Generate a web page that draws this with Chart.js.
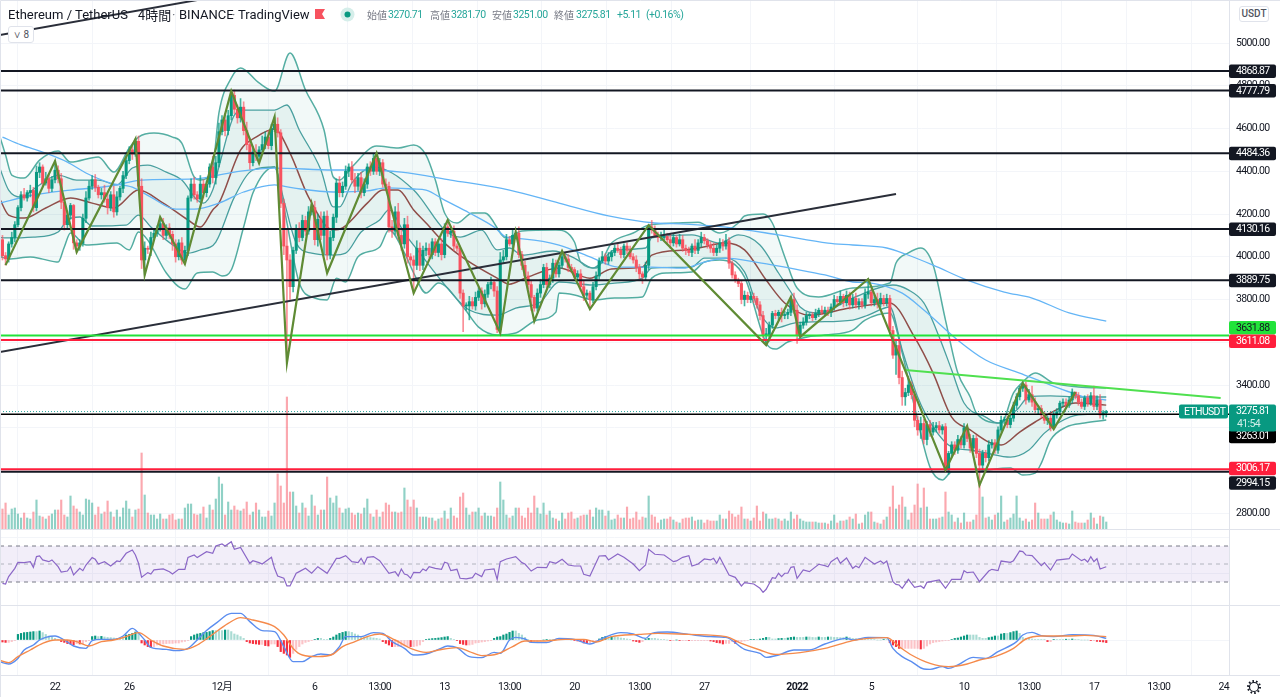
<!DOCTYPE html>
<html lang="ja">
<head>
<meta charset="UTF-8">
<title>Ethereum / TetherUS</title>
<script src="https://cdn.jsdelivr.net/npm/chart.js@4.4.1/dist/chart.umd.min.js"></script>
<style>
    html, body { margin: 0; padding: 0; background: #fff; overflow: hidden; }
    #wrap { position: relative; width: 1280px; height: 697px; font-family: Roboto, sans-serif; color: #131722; }
    canvas { position: absolute; left: 0; top: 0; filter: blur(0.3px); }
    .t { position: absolute; white-space: nowrap; }
    .head { top: 7px; font-size: 13px; line-height: 15px; }
    .lab { top: 8px; font-size: 10px; line-height: 14px; color: #787b86; font-family: "Noto Sans CJK JP", Roboto, sans-serif; }
    .val { top: 8px; font-size: 10.5px; line-height: 14px; color: #26a69a; letter-spacing: -0.5px; }
    .box { position: absolute; border: 1px solid #e0e3eb; border-radius: 3px; background: #fff; font-size: 10px; color: #50535e; text-align: center; }
</style>
</head>
<body>
<div id="wrap">
    <canvas id="mychart" width="1280" height="697"></canvas>
    <span class="t head" style="left:8px">Ethereum / TetherUS</span>
    <span class="t head" style="left:138px;font-family:'Noto Sans CJK JP',sans-serif">4時間</span>
    <span class="t head" style="left:172px;color:#787b86">·</span>
    <span class="t head" style="left:179px">BINANCE</span>
    <span class="t head" style="left:232px;color:#787b86">·</span>
    <span class="t head" style="left:238px">TradingView</span>
    <svg class="t" style="left:315px;top:9px" width="10" height="10"><path d="M0 0H10L7 5L10 10H0Z" fill="#f7525f"/></svg>
    <svg class="t" style="left:340px;top:7px" width="15" height="15"><circle cx="7.5" cy="7.5" r="7" fill="#d5eeea"/><circle cx="7.5" cy="7.5" r="3" fill="#089981"/></svg>
    <span class="t lab" style="left:367px">始値</span><span class="t val" style="left:388px">3270.71</span>
    <span class="t lab" style="left:430px">高値</span><span class="t val" style="left:451px">3281.70</span>
    <span class="t lab" style="left:492px">安値</span><span class="t val" style="left:513px">3251.00</span>
    <span class="t lab" style="left:554px">終値</span><span class="t val" style="left:576px">3275.81</span>
    <span class="t val" style="left:617px">+5.11</span><span class="t val" style="left:646px">(+0.16%)</span>
    <div class="box" style="left:8px;top:26px;width:24px;height:15px;line-height:15px">&#8744; 8</div>
    <div class="box" style="left:1239px;top:6px;width:28px;height:14px;line-height:14px;font-weight:500">USDT</div>
    <svg class="t" style="left:1246px;top:679px" width="16" height="16" fill="none" stroke="#131722">
        <circle cx="8" cy="8" r="4.5" stroke-width="1.2"/>
        <circle cx="8" cy="8" r="6" stroke-width="2" stroke-dasharray="1.6 2.1"/>
    </svg>
</div>
<script>
    // time axis: bar number, 0 = 22 Nov 00:00, 6 bars a day
    const tickBars = [0, 24, 54, 84, 105, 126, 147, 168, 189, 210, 240, 264, 294, 315, 336, 357, 378];
    const tickLabels = ['22', '26', '12月', '6', '13:00', '13', '13:00', '20', '13:00', '27', '2022', '5', '10', '13:00', '17', '13:00', '24'];
    const priceTicks = [2800, 3000, 3200, 3400, 3600, 3800, 4000, 4200, 4400, 4600, 4800, 5000];
    const rsiTicks = [40, 80];
    const macdTicks = [0];

    const firstBar = -17;
    const firstOpen = 4080;

    const closes = [
        4005,3990,4060,4090,4150,4230,4290,4275,4300,4310,
        4230,4395,4420,4345,4365,4320,4360,4405,4365,4255,
        4150,4195,4240,4065,4050,4065,4180,4275,4330,4360,
        4325,4290,4300,4270,4230,4290,4210,4280,4320,4380,
        4450,4500,4480,4540,4330,3985,4040,4035,4090,4110,
        4130,4155,4100,4135,4105,4060,4000,4065,3985,4030,
        4275,4340,4290,4270,4340,4300,4340,4420,4370,4440,
        4585,4640,4590,4660,4755,4690,4650,4700,4590,4525,
        4440,4490,4470,4500,4525,4560,4520,4600,4620,4580,
        4250,4050,3985,3860,4030,4130,4090,4170,4120,4210,
        4230,4080,4175,4100,4190,4010,4090,4185,4345,4300,
        4330,4400,4420,4360,4330,4370,4300,4340,4420,4400,
        4460,4400,4440,4340,4330,4140,4120,4210,4100,4060,
        4150,4000,3985,3960,4040,3960,4030,4040,4010,4070,
        4020,4060,4010,4140,4110,4120,4050,4040,3830,3770,
        3770,3790,3770,3810,3840,3780,3825,3870,3880,3840,
        3660,3985,4000,4080,4060,4100,4110,4010,3960,3910,
        3870,3810,3760,3830,3870,3950,3870,3900,3970,3920,
        3960,4000,3990,3950,3940,3905,3920,3860,3820,3830,
        3800,3860,3910,3980,4000,3980,4000,4020,4040,4030,
        4010,4050,4030,4000,3985,3950,3920,3905,3960,4140,
        4125,4100,4090,4090,4095,4080,4065,4090,4060,4080,
        4040,4030,4020,4050,4030,4065,4090,4075,4055,4040,
        4020,4040,4065,4050,4075,3970,3915,3890,3875,3800,
        3820,3800,3815,3805,3775,3725,3635,3635,3680,3735,
        3725,3740,3725,3730,3740,3800,3750,3635,3680,3695,
        3725,3725,3715,3735,3750,3740,3750,3740,3765,3800,
        3790,3815,3785,3820,3775,3805,3775,3790,3775,3825,
        3835,3785,3800,3780,3805,3785,3805,3655,3540,3585,
        3435,3345,3365,3400,3355,3235,3190,3220,3145,3215,
        3180,3200,3210,3190,3205,3002,3080,3120,3095,3145,
        3120,3200,3150,3105,3150,3080,3025,3080,3060,3120,
        3130,3095,3190,3235,3235,3215,3245,3305,3345,3385,
        3400,3330,3355,3320,3285,3290,3260,3235,3245,3200,
        3260,3275,3315,3320,3305,3330,3367,3350,3320,3300,
        3340,3315,3350,3300,3330,3260,3270.71,3275.81
    ];
    // wick length above / below the candle body
    const wickUp = [
        20,15,10,25,15,10,15,30,10,25,
        15,30,20,10,30,25,15,43,20,25,
        15,20,10,5,15,15,20,30,25,20,
        25,10,20,35,25,15,40,25,10,20,
        20,15,15,11,25,35,30,10,25,15,
        15,31,25,15,20,15,20,15,25,20,
        10,25,30,15,40,20,15,15,50,30,
        40,20,30,25,20,25,20,40,25,40,
        30,25,35,15,40,25,30,20,34,30,
        15,20,75,25,15,20,30,25,20,25,
        17,30,25,35,20,25,30,15,20,30,
        20,25,15,25,30,20,25,25,15,25,
        20,25,20,15,25,20,30,25,40,30,
        30,40,15,20,35,25,20,25,20,15,
        15,20,25,15,32,20,25,10,10,15,
        15,25,20,25,15,15,20,10,25,10,
        20,35,30,25,15,30,6,30,15,20,
        20,15,10,20,25,15,20,15,20,15,
        15,27,15,20,15,10,15,20,25,15,
        10,20,20,15,25,15,20,10,15,20,
        15,10,15,20,15,20,15,10,15,8,
        30,20,15,25,30,15,30,15,10,25,
        20,15,15,10,30,15,25,15,10,15,
        25,15,20,15,30,15,10,15,10,15,
        20,15,20,15,10,15,20,30,15,10,
        15,10,20,15,15,14,30,25,15,20,
        15,10,15,20,10,20,15,15,15,20,
        15,25,10,20,15,20,25,15,15,25,
        61,15,20,30,25,15,20,15,20,30,
        25,30,20,40,15,15,20,30,20,15,
        20,25,15,20,10,15,10,15,15,20,
        15,20,9,20,15,15,20,15,15,20,
        15,15,15,20,15,20,15,15,15,10,
        9,15,25,40,20,15,15,15,10,15,
        15,15,10,15,15,15,15,0,15,15,
        10,15,15,45,20,25,10,6
    ];
    const wickDown = [
        20,29,15,15,20,10,15,10,15,20,
        20,15,25,15,10,20,15,15,20,30,
        25,20,20,30,28,20,15,20,10,15,
        20,15,20,15,30,15,25,15,15,20,
        15,15,25,10,15,40,70,20,30,15,
        15,10,20,15,20,30,25,15,20,19,
        25,15,20,15,15,25,20,15,25,30,
        20,15,25,20,20,20,25,20,20,25,
        30,15,20,32,15,20,15,20,15,20,
        20,40,482,60,25,15,20,15,20,15,
        15,25,30,20,86,25,20,15,25,20,
        20,15,25,15,30,20,25,15,20,20,
        15,15,20,15,20,25,30,15,20,30,
        20,30,25,130,20,25,20,25,15,20,
        15,20,25,15,15,20,20,15,25,120,
        20,65,15,20,15,25,15,15,20,25,
        15,17,15,15,10,20,15,15,20,15,
        20,61,15,15,20,15,15,15,20,15,
        15,15,15,20,15,15,20,20,25,15,
        45,15,15,15,10,15,15,20,15,10,
        15,15,15,10,15,20,25,30,15,20,
        15,10,20,15,15,20,25,15,15,10,
        15,20,15,20,15,15,20,15,15,20,
        15,15,20,20,15,25,15,10,15,20,
        30,15,15,20,15,20,15,47,30,15,
        15,20,30,15,20,15,15,40,9,15,
        15,15,15,10,15,10,15,15,20,15,
        15,15,20,15,20,15,15,20,15,15,
        20,15,15,20,15,15,15,20,15,90,
        30,40,40,15,20,30,25,40,20,25,
        20,15,20,15,20,0,20,15,20,15,
        15,15,15,20,15,20,94,25,20,15,
        15,15,15,10,15,15,15,15,15,15,
        15,20,10,20,15,20,15,15,20,15,
        5,15,10,15,15,10,15,15,15,10,
        15,15,10,15,15,15,20,20
    ];
    const volumes = [
        20,26,14,20,21,15,11,16,11,10,17,29,13,12,10,13,15,19,19,29,
        14,12,33,23,20,17,14,30,29,26,14,22,15,17,28,17,12,19,12,21,
        28,20,12,19,20,76,34,16,14,14,10,15,10,10,14,15,9,10,10,21,
        25,25,15,14,15,22,11,24,19,30,52,45,14,27,19,23,19,18,20,27,
        14,17,26,19,12,12,18,13,26,55,43,26,132,37,37,23,16,26,21,13,
        34,23,14,19,19,52,31,26,33,21,16,20,21,16,14,16,15,21,30,15,
        12,19,12,17,26,24,17,17,16,17,41,29,22,29,21,12,12,
        12,11,11,8,10,11,18,10,21,13,11,32,36,21,14,17,17,21,13,16,
        13,13,12,21,47,29,14,11,13,21,21,13,11,21,16,33,21,15,26,14,
        18,11,10,8,16,10,16,17,10,11,13,14,14,19,12,21,19,19,13,18,
        9,10,14,11,11,22,10,11,17,9,12,11,33,14,12,6,9,10,10,12,
        9,7,6,10,11,11,12,8,9,9,6,9,8,8,8,14,10,10,18,15,
        12,14,22,10,10,8,11,23,8,17,15,10,10,11,10,8,10,8,17,10,
        14,10,8,7,7,7,7,6,6,6,5,8,14,6,8,8,9,12,
        10,15,5,6,14,17,17,7,6,5,9,12,22,43,20,24,32,22,9,16,
        24,45,21,41,22,10,10,10,11,12,37,17,14,7,11,6,16,7,7,9,
        14,44,32,11,12,9,14,16,33,7,9,11,15,33,11,8,10,7,9,26,
        16,10,10,10,14,17,9,7,6,6,5,18,7,6,6,6,9,16,11,5,
        13,12,7
    ];
    const macdHist = [
        -10,-12,-12,-8,-3,28,33,37,38,40,42,42,45,37,28,20,15,
        8,3,-8,-12,-18,-20,-25,-18,-20,-18,-8,-3,17,20,17,18,15,13,12,10,8,8,8,25,28,33,40,33,
        -15,-25,-33,-38,-33,-25,-22,-20,-18,-17,-17,-15,-15,-10,-7,-3,17,25,30,33,37,38,42,47,47,47,47,50,50,42,30,25,17,8,
        -8,-15,-18,-20,-22,-22,-28,-30,-20,-20,-33,-58,-67,-75,-87,-67,-47,-33,-20,-12,-8,-3,3,8,8,3,3,8,15,25,33,38,42,42,38,30,25,17,15,15,12,10,8,5,
        -8,-17,-25,-33,-33,-33,-33,-30,-28,-33,-33,-30,-25,-8,
        3,5,7,8,10,12,15,17,8,3,-3,-18,-22,-25,-25,-22,-15,-13,-10,-8,-5,-3,8,15,17,25,30,38,45,45,33,25,13,3,-8,-8,-8,-5,0,3,3,3,3,3,5,5,3,0,-3,-5,-8,-15,-17,-15,-8,-3,5,13,17,15,17,15,13,10,8,5,3,-5,-8,-12,-8,3,8,8,8,5,3,3,0,-3,-3,0,-2,-2,-2,-3,-3,-3,-3,-3,-3,-3,-5,-8,-13,-15,-20,-17,-17,-8,-17,-8,-8,-5,-3,2,3,3,5,8,13,13,5,5,7,8,8,10,13,15,13,13,13,15,15,13,12,15,13,13,15,15,13,13,12,12,15,12,
        8,7,5,5,3,3,2,2,0,0,2,2,-13,-25,-33,-42,-42,-42,-42,-42,-42,-42,-45,-42,-30,-20,-13,-10,-8,-5,-3,-3,3,8,10,15,20,25,25,25,25,13,8,8,12,15,20,20,30,33,33,37,42,45,33,13,8,8,5,3,3,3,3,-8,-8,3,3,3,3,4,4,5,3,3,0,0,0,-3,-3,-7,-8,-10,-13
    ];

    // sampled lines: [bar, value]
    const ma200 = [[-18,4251],[-7,4289],[5,4312],[18,4331],[28,4359],[45,4364],[58,4396],[71,4415],[90,4406],[101,4406],[112,4396],[128,4359],[147,4312],[163,4251],[179,4191],[194,4158],[204,4153],[217,4139],[234,4102],[250,4064],[258,4055],[269,4041],[275,4013],[284,3961],[295,3891],[307,3835],[316,3807],[328,3737],[340,3699]];
    const ma100 = [[-17,4560],[-11,4523],[-4,4490],[4,4443],[10,4392],[18,4345],[25,4326],[31,4279],[39,4223],[45,4223],[53,4251],[61,4303],[71,4336],[77,4322],[90,4303],[101,4308],[107,4322],[116,4317],[120,4312],[126,4265],[134,4205],[142,4139],[146,4092],[152,4083],[163,4055],[174,3994],[182,3952],[193,3952],[203,3947],[210,3975],[217,3994],[228,3971],[239,3943],[249,3915],[258,3882],[264,3877],[274,3830],[281,3751],[292,3610],[301,3517],[312,3456],[322,3400],[329,3363],[333,3344],[340,3330]];
    const bbUpper = [[-18,4569],[-16,4476],[-14,4382],[-10,4368],[-5,4452],[1,4495],[5,4443],[14,4467],[19,4396],[24,4509],[27,4560],[32,4579],[38,4560],[41,4532],[45,4373],[47,4359],[51,4420],[53,4672],[57,4836],[60,4883],[66,4813],[71,4775],[76,4953],[81,4780],[87,4593],[90,4373],[92,4359],[96,4420],[104,4518],[111,4509],[116,4523],[120,4476],[123,4359],[126,4205],[130,4158],[135,4205],[139,4205],[146,4088],[151,4120],[162,4125],[168,4069],[170,3975],[175,3947],[180,4064],[187,4111],[192,4148],[201,4158],[208,4162],[215,4111],[221,4158],[223,4191],[229,4200],[232,4158],[236,4000],[240,3854],[247,3812],[258,3854],[270,3877],[272,3971],[276,4018],[280,4041],[284,3961],[288,3704],[292,3456],[296,3344],[298,3269],[306,3222],[310,3363],[313,3414],[317,3456],[323,3409],[331,3391],[340,3386]];
    const bbLower = [[-18,4003],[-15,3989],[-8,3999],[-4,3989],[1,3975],[3,4046],[5,4111],[10,4055],[20,4064],[24,4032],[27,4116],[30,4078],[36,3924],[42,3849],[46,3924],[51,3929],[54,3910],[57,3938],[61,4139],[64,4298],[71,4420],[74,4233],[79,3877],[84,3807],[88,3798],[91,3900],[94,3882],[98,4000],[105,4046],[108,4125],[113,4018],[116,3924],[120,3830],[124,3877],[132,3765],[137,3671],[143,3634],[149,3643],[156,3704],[162,3741],[163,3830],[168,3821],[174,3798],[181,3807],[190,3812],[193,3900],[198,3924],[206,3929],[210,3975],[215,3985],[223,3905],[230,3596],[233,3568],[237,3601],[243,3624],[249,3634],[258,3657],[262,3704],[270,3737],[274,3550],[278,3297],[283,3016],[287,2956],[290,2993],[296,2993],[301,3002],[309,3012],[313,2979],[317,2988],[319,3035],[322,3143],[327,3203],[333,3222],[340,3236]];
    const bbInnerUpper = [[-18,4420],[-15,4312],[-11,4279],[-6,4326],[1,4382],[7,4359],[14,4359],[20,4336],[25,4415],[30,4429],[36,4396],[41,4359],[46,4265],[48,4251],[51,4312],[53,4420],[58,4663],[61,4686],[71,4686],[75,4710],[79,4593],[86,4406],[90,4233],[92,4233],[96,4345],[103,4420],[109,4392],[116,4312],[118,4279],[126,4125],[131,4092],[138,4125],[143,4032],[147,4041],[151,4008],[161,4027],[168,3994],[174,3947],[181,4032],[191,4041],[193,4088],[206,4102],[215,4064],[221,4102],[228,4055],[234,3924],[239,3812],[241,3765],[247,3737],[258,3807],[271,3868],[276,3845],[281,3784],[286,3624],[290,3470],[294,3316],[301,3250],[305,3222],[311,3283],[315,3344],[322,3349],[331,3344],[340,3344]];
    const bbInnerLower = [[-18,4090],[-16,4088],[-7,4092],[1,4116],[4,4172],[8,4186],[12,4144],[23,4148],[27,4195],[31,4139],[36,4078],[43,4017],[47,4032],[52,4069],[58,4279],[64,4406],[71,4420],[74,4265],[78,4064],[83,4017],[90,4008],[94,4017],[99,4116],[105,4172],[108,4219],[113,4111],[118,4017],[124,3905],[134,3751],[143,3727],[149,3760],[157,3788],[163,3882],[174,3868],[181,3877],[190,3900],[193,3947],[206,3952],[210,3994],[217,3994],[223,3929],[228,3737],[233,3667],[239,3690],[245,3695],[258,3704],[263,3727],[270,3765],[274,3564],[279,3344],[284,3204],[290,3110],[296,3096],[301,3082],[309,3063],[315,3096],[320,3175],[325,3227],[331,3260],[340,3264]];
    const bbBasis = [[-18,4275],[-15,4195],[-10,4181],[-3,4228],[5,4275],[12,4251],[19,4228],[27,4312],[35,4251],[43,4172],[47,4139],[51,4219],[53,4251],[60,4499],[65,4560],[71,4598],[76,4485],[82,4279],[90,4125],[93,4135],[101,4251],[106,4312],[111,4312],[116,4219],[120,4158],[126,4064],[133,3985],[143,3900],[147,3872],[152,3900],[163,3947],[173,3900],[180,3943],[190,3952],[193,4008],[204,4032],[208,4041],[217,4064],[223,4032],[230,3891],[236,3784],[244,3727],[257,3760],[270,3784],[278,3624],[284,3456],[290,3250],[296,3190],[302,3133],[306,3119],[312,3180],[317,3227],[325,3292],[330,3316],[340,3306]];
    const zigzag = [[-16,3961],[0,4448],[7,4022],[26,4551],[29,3915],[34,4186],[42,3966],[57,4775],[66,4438],[71,4654],[75,3503],[83,4247],[88,3924],[104,4485],[116,3830],[127,4172],[144,3643],[149,4116],[155,3699],[164,4027],[173,3755],[192,4148],[230,3587],[238,3812],[241,3625],[263,3896],[288,3002],[295,3208],[299,2932],[313,3409],[323,3194],[330,3367]];
    const trendLong = [[-18,3554],[272,4294]];
    const trendTop = [[-18,5037],[46,5201]];
    const trendGreen = [[275,3470],[377,3339]];

    const levelPrices = [4868.87, 4777.79, 4484.36, 4130.16, 3889.75, 3631.88, 3611.08, 3263.01, 3006.17, 2994.15];
    const lastPrice = 3275.81;
    const countdown = '41:54';
    const symbol = 'ETHUSDT';

    const rsiLine = [[-17,28.5],[-16,27.8],[-15,36],[-13,45.2],[-12,51.9],[-10,51.5],[-8,52.6],[-7,46.3],[-6,58.2],[-5,58.9],[-4,54.5],[-2,52.6],[-1,54.5],[1,47],[2,41.1],[4,42.2],[5,47],[6,37.8],[8,45.2],[9,42.6],[10,48.9],[12,57.1],[13,55.2],[14,50],[16,52.6],[18,47.8],[20,53.4],[21,52.6],[23,61.9],[25,65.6],[26,60],[27,50.8],[28,35.2],[30,40.4],[31,38.9],[32,43.4],[35,44.5],[37,41.5],[38,38.9],[40,44.1],[42,44.1],[43,57.4],[45,60],[46,57.1],[49,63.7],[51,61.9],[52,70],[54,72.2],[55,70],[57,74.8],[58,66.3],[60,68.5],[63,50.8],[64,53.7],[66,51.5],[67,50],[68,52.6],[70,57.4],[71,45.2],[72,36.7],[74,34.1],[75,25.6],[76,25.6],[78,39.7],[79,41.5],[81,45.2],[83,39.7],[85,47],[88,39.7],[91,56.3],[92,56.3],[94,59.3],[96,52.6],[98,51.5],[99,56.3],[100,50],[101,57.4],[103,58.2],[105,53.7],[108,39.7],[110,41.5],[111,36.7],[112,44.5],[113,38.9],[114,37.8],[115,34.1],[116,40.8],[118,40.4],[119,44.5],
        [120,42.6],[121,47],[123,45.2],[125,44.1],[126,51.9],[127,50.8],[128,42.6],[130,44.1],[131,34.1],[133,33.4],[135,34.8],[136,39.7],[138,36],[139,43.4],[142,44.5],[143,33],[144,52.6],[146,55.6],[149,58.2],[151,51.5],[152,50],[154,42.2],[156,46.3],[159,45.9],[160,52.6],[162,50.8],[164,55.2],[166,48.9],[168,47.8],[170,47.8],[171,38.5],[173,36.7],[176,58.9],[178,59.3],[179,54.5],[182,61.1],[184,57.4],[187,50],[189,42.6],[191,48.9],[192,66.3],[194,60.8],[197,60],[200,52.6],[201,53.4],[203,57.4],[205,59.3],[206,47.8],[208,50],[210,55.6],[212,54.5],[213,56.3],[214,50.8],[215,57.4],[216,50.8],[218,37.8],[220,35.2],[222,25.6],[223,29.3],[226,27.8],[228,23],[229,18.5],[230,21.9],[232,34.8],[233,34.1],[234,39.7],[235,36],[236,39.7],[237,39.7],[238,46.3],[239,47],[240,34.1],[242,43.4],[244,41.5],[247,49.7],[249,48.2],[250,47],[251,52.6],[253,57.1],[254,50.8],[256,56.7],
        [258,45.2],[259,47.8],[260,45.9],[262,57.4],[265,50],[267,53.3],[268,50.7],[269,53.3],[271,30.4],[272,27.4],[273,26.7],[274,23],[276,33],[278,24.1],[280,25.6],[281,23],[282,29.6],[286,32.2],[288,23],[290,33],[293,33],[294,42.6],[295,40.4],[297,41.1],[299,30.4],[302,42.2],[303,44.1],[305,42.6],[306,53.3],[309,51.9],[310,53.7],[312,64.4],[313,63.7],[314,60],[316,59.3],[319,48.1],[320,51.5],[322,43.3],[324,54.4],[328,55.9],[329,61.1],[332,53.7],[333,55.2],[334,52.2],[335,58.1],[336,52.6],[337,55.9],[338,44.4],[340,47]];
    const rsiLevels = [70, 50, 30];

    const macdLine = [[-18,-108],[-15,-120],[-12,-92],[-10,-50],[-7,-25],[-5,0],[-3,13],[0,20],[3,0],[6,-30],[10,-42],[12,-3],[15,3],[19,3],[22,20],[25,58],[26,50],[29,0],[31,-37],[36,-47],[39,-53],[43,-42],[46,0],[49,47],[52,83],[57,133],[60,133],[63,92],[67,47],[71,42],[74,-33],[77,-108],[80,-108],[83,-83],[86,-70],[89,-75],[92,-33],[94,17],[99,17],[103,37],[106,33],[109,-8],[113,-42],[116,-75],[120,-70],[124,-47],[127,-30],[130,-38],[134,-83],[138,-88],[142,-62],[144,-67],[147,0],[149,13],[152,5],[154,-12],[159,-13],[163,8],[168,3],[173,-20],[177,8],[183,37],[187,30],[191,8],[193,33],[198,40],[205,28],[212,17],[217,13],[223,-47],[228,-67],[230,-87],[234,-75],[239,-50],[244,-50],[249,-20],[256,8],[258,0],[263,13],[269,12],[271,-42],[274,-83],[277,-108],[281,-145],[283,-147],[287,-133],[289,-142],[292,-125],[297,-87],[301,-92],[305,-58],[311,-8],[313,25],[316,38],[319,22],[323,17],[329,27],[336,23],[340,8]];
    const macdSignal = [[-18,-100],[-15,-113],[-12,-83],[-8,-50],[-4,-17],[0,0],[4,0],[7,-8],[11,-30],[15,-8],[19,0],[23,17],[27,37],[31,0],[35,-30],[42,-47],[46,-25],[50,17],[56,83],[60,112],[64,100],[71,67],[74,25],[77,-42],[80,-75],[85,-83],[90,-70],[93,-33],[97,-8],[101,17],[105,30],[110,0],[115,-42],[120,-62],[124,-50],[130,-38],[134,-58],[138,-78],[143,-70],[148,-33],[152,-5],[158,-5],[165,3],[171,3],[175,-10],[180,17],[189,28],[195,33],[205,28],[217,17],[222,-17],[228,-50],[233,-72],[241,-63],[249,-42],[258,-3],[263,8],[269,12],[273,-33],[277,-75],[283,-117],[289,-133],[295,-120],[299,-100],[304,-83],[310,-42],[314,5],[319,20],[327,20],[333,23],[340,17]];

    // layout of the picture, in canvas pixels
    const paneEdges = [529.5, 605.5, 675.5];
    const axisWidth = 51;
    const timeAxisHeight = 22;
    const xMin = -17.8, xMax = 379.7;

    const UP = '#089981', DOWN = '#f7525f', BLACK = '#131722';
    const AXIS_FONT = 'Roboto';
    const AXIS_SIZE = 10.5;
    // the reference digits are narrow, no installed font has them
    const AXIS_SPACING = '-0.65px';

    const xy = list => list.map(([x, y]) => ({ x, y }));
    const level = v => [{ x: xMin, y: v }, { x: xMax, y: v }];

    const opens = closes.map((c, i) => i === 0 ? firstOpen : closes[i - 1]);
    const bars = closes.map((c, i) => firstBar + i);
    const highs = closes.map((c, i) => Math.max(opens[i], c) + wickUp[i]);
    const lows = closes.map((c, i) => Math.min(opens[i], c) - wickDown[i]);
    const candleColor = closes.map((c, i) => c >= opens[i] ? UP : DOWN);
    const volColor = closes.map((c, i) => c >= opens[i] ? 'rgba(8,153,129,0.45)' : 'rgba(247,82,95,0.5)');
    const histColor = macdHist.map((v, i) => {
        const prev = i ? macdHist[i - 1] : 0;
        if (v >= 0) return v > prev ? '#089981' : 'rgba(8,153,129,0.35)';
        return v < prev ? '#f7303e' : 'rgba(247,82,95,0.35)';
    });

    function line(label, data, color, width, order, extra) {
        return Object.assign({ type: 'line', label, data, borderColor: color, borderWidth: width, pointRadius: 0, tension: 0, fill: false, order, yAxisID: 'y' }, extra || {});
    }
    const smooth = { cubicInterpolationMode: 'monotone' };

    const datasets = [
        { type: 'bar', label: 'Volume', yAxisID: 'yVol', order: 100, grouped: false, barThickness: 1.5, backgroundColor: volColor,
          data: bars.map((x, i) => ({ x, y: volumes[i] })) },
        line('BB upper', xy(bbUpper), '#55aea3', 1.5, 70, Object.assign({ fill: { target: 2 }, backgroundColor: 'rgba(0,137,123,0.05)' }, smooth)),
        line('BB lower', xy(bbLower), '#55aea3', 1.5, 70, smooth),
        line('BB inner upper', xy(bbInnerUpper), '#4aa0a0', 1.3, 69, Object.assign({ fill: { target: 4 }, backgroundColor: 'rgba(0,137,123,0.06)' }, smooth)),
        line('BB inner lower', xy(bbInnerLower), '#4aa0a0', 1.3, 69, smooth),
        line('BB basis', xy(bbBasis), '#8f4e49', 1.5, 68, smooth),
        line('MA 100', xy(ma100), '#64b5f6', 1.3, 60, smooth),
        line('MA 200', xy(ma200), '#64b5f6', 1.3, 60, smooth),
        { type: 'bar', label: 'Wick', yAxisID: 'y', order: 50, grouped: false, barThickness: 1, backgroundColor: candleColor.map(c => c === UP ? 'rgba(8,153,129,0.75)' : 'rgba(247,82,95,0.65)'),
          data: bars.map((x, i) => ({ x, y: [lows[i], highs[i]] })) },
        { type: 'bar', label: 'Body', yAxisID: 'y', order: 49, grouped: false, barThickness: 2.4, minBarLength: 1, backgroundColor: candleColor,
          data: bars.map((x, i) => ({ x, y: [opens[i], closes[i]] })) },
        line('Last', level(lastPrice), '#26a69a', 1, 30, { borderDash: [1, 2] }),
        line('Trend', xy(trendLong), '#2a2e39', 2, 25),
        line('Trend top', xy(trendTop), '#2a2e39', 2, 25),
        line('Trend green', xy(trendGreen), '#4fe04f', 2, 25),
        line('ZigZag', xy(zigzag), '#5f8b34', 2.2, 20),
        line('RSI high', level(rsiLevels[0]), '#787b86', 1, 92, { yAxisID: 'yRsi', borderDash: [4, 4], fill: { target: 17 }, backgroundColor: 'rgba(126,87,194,0.1)' }),
        line('RSI mid', level(rsiLevels[1]), '#b2b5be', 1, 91, { yAxisID: 'yRsi', borderDash: [4, 4] }),
        line('RSI low', level(rsiLevels[2]), '#787b86', 1, 91, { yAxisID: 'yRsi', borderDash: [4, 4] }),
        line('RSI', xy(rsiLine), '#8b67c7', 1.2, 15, { yAxisID: 'yRsi' }),
        { type: 'bar', label: 'Hist', yAxisID: 'yMacd', order: 18, grouped: false, barThickness: 1.5, backgroundColor: histColor,
          data: bars.map((x, i) => ({ x, y: macdHist[i] })) },
        line('MACD', xy(macdLine), '#5b8def', 1.4, 14, Object.assign({ yAxisID: 'yMacd' }, smooth)),
        line('Signal', xy(macdSignal), '#f58a4b', 1.4, 13, Object.assign({ yAxisID: 'yMacd' }, smooth))
    ];
    // horizontal price levels sit above the candles
    const levelStyles = [
        { color: BLACK, w: 2, bg: BLACK, fg: '#fff', dy: 0 },
        { color: BLACK, w: 2, bg: BLACK, fg: '#fff', dy: 0 },
        { color: BLACK, w: 2, bg: BLACK, fg: '#fff', dy: 0 },
        { color: BLACK, w: 2, bg: BLACK, fg: '#fff', dy: 0 },
        { color: BLACK, w: 2, bg: BLACK, fg: '#fff', dy: 0 },
        { color: '#22e33a', w: 2, bg: '#22e33a', fg: BLACK, dy: -8 },
        { color: '#ff1e3c', w: 2, bg: '#ff1e3c', fg: '#fff', dy: 1 },
        { color: '#000000', w: 1.5, bg: '#000000', fg: '#fff', dy: 22 },
        { color: '#ff1e3c', w: 2, bg: '#ff1e3c', fg: '#fff', dy: -1 },
        { color: BLACK, w: 2, bg: BLACK, fg: '#fff', dy: 11 }
    ];
    levelPrices.forEach((v, i) => datasets.push(line('Level ' + v, level(v), levelStyles[i].color, levelStyles[i].w, 22)));

    function fixedAxis(ticks, width) {
        return {
            afterBuildTicks: s => { s.ticks = ticks.map(value => ({ value })); },
            afterFit: s => { s.width = width; s.paddingTop = 0; s.paddingBottom = 0; }
        };
    }
    const yTicks = {
        color: BLACK, padding: 7, autoSkip: false, font: { family: AXIS_FONT, size: AXIS_SIZE },
        callback: v => Number(v).toFixed(2)
    };

    function roundBox(ctx, x, y, w, h, r, fill) {
        ctx.fillStyle = fill;
        ctx.beginPath();
        ctx.roundRect(x, y, w, h, r);
        ctx.fill();
    }

    const paneAndTags = {
        id: 'paneAndTags',
        beforeDraw(chart) {
            chart.ctx.letterSpacing = AXIS_SPACING;
        },
        afterDraw(chart) {
            const { ctx, scales } = chart;
            ctx.save();
            ctx.strokeStyle = '#e0e3eb';
            ctx.lineWidth = 1;
            paneEdges.forEach(y => { ctx.beginPath(); ctx.moveTo(0, y); ctx.lineTo(1280, y); ctx.stroke(); });
            ctx.beginPath(); ctx.moveTo(0.5, 697); ctx.lineTo(0.5, 0.5); ctx.lineTo(1280, 0.5); ctx.stroke();
            ctx.textBaseline = 'middle';
            ctx.font = AXIS_SIZE + 'px ' + AXIS_FONT;
            const axisLeft = scales.y.left;
            levelPrices.forEach((v, i) => {
                const st = levelStyles[i];
                const cy = scales.y.getPixelForValue(v) + st.dy;
                roundBox(ctx, axisLeft, cy - 6.5, 47, 13.5, 2, st.bg);
                ctx.fillStyle = st.fg;
                ctx.fillText(v.toFixed(2), axisLeft + 7, cy + 0.5);
            });
            const ly = scales.y.getPixelForValue(lastPrice);
            roundBox(ctx, axisLeft, ly - 7, 47, 27, 2, UP);
            ctx.fillStyle = '#fff';
            ctx.fillText(lastPrice.toFixed(2), axisLeft + 7, ly);
            ctx.fillStyle = '#cfeee8';
            ctx.fillText(countdown, axisLeft + 8, ly + 13);
            roundBox(ctx, axisLeft - 50, ly - 7, 49, 14, 2, UP);
            ctx.fillStyle = '#fff';
            ctx.fillText(symbol, axisLeft - 45, ly + 0.5);
            ctx.restore();
        }
    };

    new Chart(document.getElementById('mychart').getContext('2d'), {
        type: 'bar',
        data: { datasets },
        plugins: [paneAndTags],
        options: {
            responsive: false,
            animation: false,
            events: [],
            layout: { padding: 0 },
            plugins: { legend: { display: false }, title: { display: false }, tooltip: { enabled: false }, filler: { propagate: false } },
            scales: {
                x: {
                    type: 'linear', min: xMin, max: xMax, offset: false,
                    grid: { color: '#f3f5f9', drawTicks: false },
                    border: { display: false },
                    afterBuildTicks: s => { s.ticks = tickBars.map(value => ({ value })); },
                    afterFit: s => { s.height = timeAxisHeight; s.paddingLeft = 0; s.paddingRight = 0; },
                    ticks: {
                        color: BLACK, padding: 6, maxRotation: 0, autoSkip: false,
                        font: ctx => ({ family: AXIS_FONT + ', "Noto Sans CJK JP"', size: AXIS_SIZE, weight: ctx.tick && ctx.tick.value === 240 ? 'bold' : 'normal' }),
                        callback: v => tickLabels[tickBars.indexOf(v)]
                    }
                },
                y: Object.assign({
                    position: 'right', weight: 2, min: 2043.5, max: 5201.2,
                    grid: { color: '#f3f5f9', drawTicks: false },
                    border: { color: '#e0e3eb' }, ticks: yTicks
                }, fixedAxis(priceTicks, axisWidth)),
                yVol: { display: false, position: 'right', min: -146, max: 529 },
                yRsi: Object.assign({
                    position: 'right', weight: 0, min: -73.33, max: 676.67,
                    grid: { color: '#f3f5f9', drawTicks: false },
                    border: { display: false }, ticks: yTicks
                }, fixedAxis(rsiTicks, 0)),
                yMacd: Object.assign({
                    position: 'right', weight: 1, min: -175, max: 3200,
                    grid: { color: '#f3f5f9', drawTicks: false },
                    border: { display: false }, ticks: yTicks
                }, fixedAxis(macdTicks, 0))
            }
        }
    });
</script>
</body>
</html>
